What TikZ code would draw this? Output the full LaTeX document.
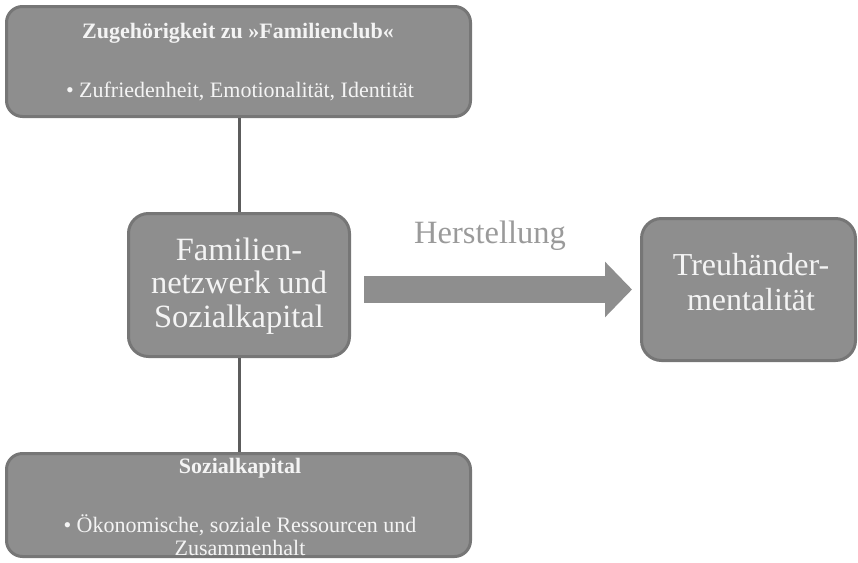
\documentclass[tikz,border=0pt]{standalone}
\usepackage{fontspec}
\setmainfont{Liberation Serif}
\usetikzlibrary{arrows.meta}
\definecolor{boxfill}{HTML}{8E8E8E}
\definecolor{boxedge}{HTML}{767676}
\definecolor{linkgray}{HTML}{5C5C5C}
\definecolor{labelgray}{HTML}{9A9A9A}
\definecolor{boxtext}{HTML}{F4F4F4}
\tikzset{
  panel/.style={draw=boxedge, fill=boxfill, line width=3pt, rounded corners=16pt, inner sep=0pt},
  boxlabel/.style={text=boxtext, inner sep=0pt, anchor=base, align=center},
  link/.style={draw=linkgray, line width=3pt},
  bigarrow/.style={draw=boxfill, line width=27pt, -{Triangle[length=27pt,width=54pt]}},
}
\begin{document}
\begin{tikzpicture}[x=1pt,y=-1pt]
\useasboundingbox (0,0) rectangle (858,562);
% boxes
\node[panel, minimum width=464pt, minimum height=110pt] (top) at (238.5,61.5) {};
\node[panel, minimum width=464pt, minimum height=103pt] (bot) at (238.5,505) {};
\node[panel, minimum width=221pt, minimum height=143pt, rounded corners=20pt] (mid) at (239,285) {};
\node[panel, minimum width=214pt, minimum height=142pt, rounded corners=20pt] (res) at (748.5,289.5) {};
% connectors
\draw[link] (mid.north) -- (mid.north |- top.south);
\draw[link] (mid.south) -- (mid.south |- bot.north);
\draw[bigarrow, shorten <=13pt, shorten >=8pt] (mid.east |- res.west) -- (res.west);
% texts (anchored at the baseline of the last line)
\node[boxlabel, font=\fontsize{22}{26}\selectfont\bfseries] (toptitle) at (238,38) {Zugehörigkeit zu »Familienclub«};
\node[boxlabel, font=\fontsize{22}{26}\selectfont] (topitem) at (240,97) {• Zufriedenheit, Emotionalität, Identität};
\node[boxlabel, font=\fontsize{22}{26}\selectfont\bfseries] (bottitle) at (240,473) {Sozialkapital};
\node[boxlabel, font=\fontsize{22}{23}\selectfont] (botitem) at (240,555) {• Ökonomische, soziale Ressourcen und\\Zusammenhalt};
\node[boxlabel, font=\fontsize{32.5}{33.5}\selectfont] (midtext) at (239,327) {Familien-\\netzwerk und\\Sozialkapital};
\node[boxlabel, font=\fontsize{32}{35}\selectfont] (restext) at (751,310) {Treuhänder-\\mentalität};
\node[inner sep=0pt, anchor=base, text=labelgray, font=\fontsize{32.5}{34}\selectfont] (make) at (490,243) {Herstellung};
\end{tikzpicture}
\end{document}
